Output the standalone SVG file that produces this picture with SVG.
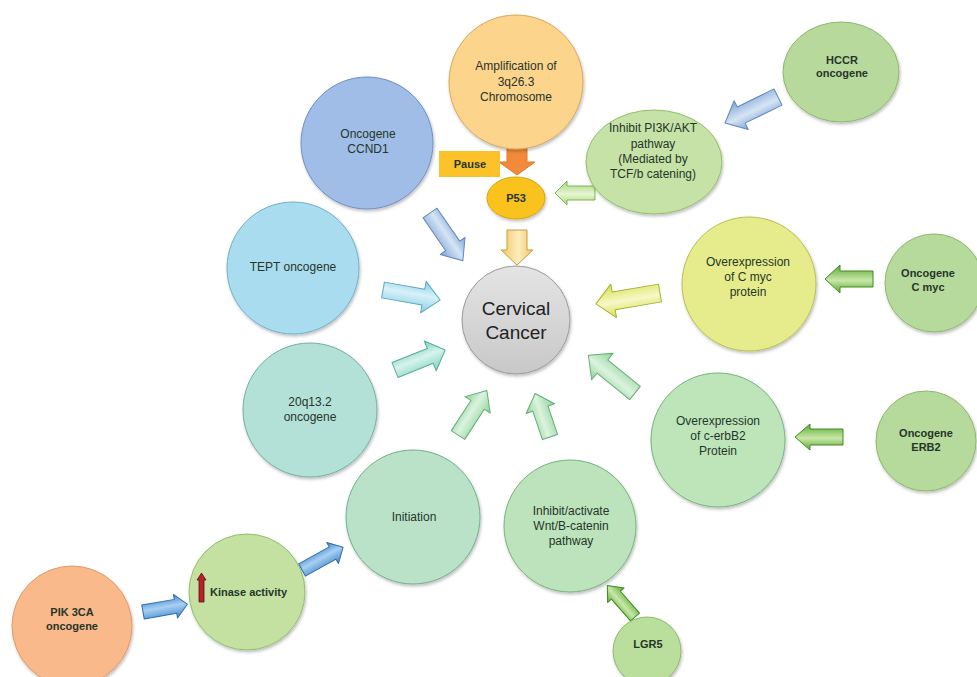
<svg xmlns="http://www.w3.org/2000/svg" width="977" height="677" viewBox="0 0 977 677">
<defs>
<filter id="sh" x="-20%" y="-20%" width="140%" height="140%"><feDropShadow dx="1" dy="2" stdDeviation="1.5" flood-color="#000" flood-opacity="0.25"/></filter>
<linearGradient id="gBlue" x1="0" y1="0" x2="0" y2="1"><stop offset="0" stop-color="#7ea4d4"/><stop offset="0.45" stop-color="#d6e5f5"/><stop offset="1" stop-color="#7ea4d4"/></linearGradient>
<linearGradient id="gCyan" x1="0" y1="0" x2="0" y2="1"><stop offset="0" stop-color="#86cfe4"/><stop offset="0.45" stop-color="#d8f1f8"/><stop offset="1" stop-color="#86cfe4"/></linearGradient>
<linearGradient id="gTeal" x1="0" y1="0" x2="0" y2="1"><stop offset="0" stop-color="#7fd2bf"/><stop offset="0.45" stop-color="#d6f3ec"/><stop offset="1" stop-color="#7fd2bf"/></linearGradient>
<linearGradient id="gLGreen" x1="0" y1="0" x2="0" y2="1"><stop offset="0" stop-color="#8fd29a"/><stop offset="0.45" stop-color="#dcf3de"/><stop offset="1" stop-color="#8fd29a"/></linearGradient>
<linearGradient id="gYGreen" x1="0" y1="0" x2="0" y2="1"><stop offset="0" stop-color="#a8d878"/><stop offset="0.45" stop-color="#e6f5d4"/><stop offset="1" stop-color="#a8d878"/></linearGradient>
<linearGradient id="gYellow" x1="0" y1="0" x2="0" y2="1"><stop offset="0" stop-color="#d6e04c"/><stop offset="0.45" stop-color="#f6f8c8"/><stop offset="1" stop-color="#d6e04c"/></linearGradient>
<linearGradient id="gGold" x1="0" y1="0" x2="0" y2="1"><stop offset="0" stop-color="#f0c860"/><stop offset="0.45" stop-color="#fcecc0"/><stop offset="1" stop-color="#f0c860"/></linearGradient>
<linearGradient id="gDGreen" x1="0" y1="0" x2="0" y2="1"><stop offset="0" stop-color="#5aa830"/><stop offset="0.45" stop-color="#c8e8a8"/><stop offset="1" stop-color="#5aa830"/></linearGradient>
<linearGradient id="gDBlue" x1="0" y1="0" x2="0" y2="1"><stop offset="0" stop-color="#3f86cc"/><stop offset="0.45" stop-color="#a8d0f2"/><stop offset="1" stop-color="#3f86cc"/></linearGradient>
<linearGradient id="gGray" x1="0" y1="0" x2="0" y2="1"><stop offset="0" stop-color="#e4e4e4"/><stop offset="1" stop-color="#c8c8c8"/></linearGradient>
</defs>
<style>
.n{filter:url(#sh);stroke-width:1}
.t{font-family:"Liberation Sans",Arial,sans-serif;font-size:12px;fill:#26352a;text-anchor:middle}
.b{font-weight:bold;font-size:11px}
.a{stroke-width:1;stroke-linejoin:round}
</style>

<g id="connectors">
<polygon class="a" fill="#f28a3a" stroke="#e0782a" transform="translate(517,145) rotate(90)" points="0,-10 17,-10 17,-18 30,0 17,18 17,10 0,10"/>
<polygon class="a" fill="url(#gYGreen)" stroke="#7fb450" transform="translate(595,193) rotate(180)" points="0,-7 28,-7 28,-12 40,0 28,12 28,7 0,7"/>
<polygon class="a" fill="url(#gBlue)" stroke="#5f86bc" transform="translate(778,97) rotate(153.9)" points="0,-9 41,-9 41,-16 59,0 41,16 41,9 0,9"/>
<polygon class="a" fill="url(#gGold)" stroke="#c89c3a" transform="translate(517,230) rotate(90)" points="0,-10 20,-10 20,-16 35,0 20,16 20,10 0,10"/>
<polygon class="a" fill="url(#gBlue)" stroke="#5f86bc" transform="translate(430,213) rotate(55.5)" points="0,-8.5 40,-8.5 40,-15 58,0 40,15 40,8.5 0,8.5"/>
<polygon class="a" fill="url(#gCyan)" stroke="#5aa6c0" transform="translate(383,290) rotate(10)" points="0,-8 41,-8 41,-16 58,0 41,16 41,8 0,8"/>
<polygon class="a" fill="url(#gTeal)" stroke="#55ac98" transform="translate(395,370) rotate(-21.8)" points="0,-8 38,-8 38,-16 54,0 38,16 38,8 0,8"/>
<polygon class="a" fill="url(#gLGreen)" stroke="#64ad72" transform="translate(458,435) rotate(-57)" points="0,-8 36,-8 36,-15 53,0 36,15 36,8 0,8"/>
<polygon class="a" fill="url(#gLGreen)" stroke="#64ad72" transform="translate(550,437) rotate(-108.8)" points="0,-8 30,-8 30,-15 46,0 30,15 30,8 0,8"/>
<polygon class="a" fill="url(#gLGreen)" stroke="#64ad72" transform="translate(635,393) rotate(-141)" points="0,-8.5 42,-8.5 42,-17 60,0 42,17 42,8.5 0,8.5"/>
<polygon class="a" fill="url(#gYellow)" stroke="#a8b030" transform="translate(660,293) rotate(170.4)" points="0,-9 47,-9 47,-17 65,0 47,17 47,9 0,9"/>
<polygon class="a" fill="url(#gDGreen)" stroke="#3f8a22" transform="translate(873,279) rotate(180)" points="0,-8 33,-8 33,-14 48,0 33,14 33,8 0,8"/>
<polygon class="a" fill="url(#gDGreen)" stroke="#3f8a22" transform="translate(843,437) rotate(180)" points="0,-8 33,-8 33,-13 48,0 33,13 33,8 0,8"/>
<polygon class="a" fill="url(#gDGreen)" stroke="#3f8a22" transform="translate(635,617) rotate(-131.2)" points="0,-6 29,-6 29,-11 42,0 29,11 29,6 0,6"/>
<polygon class="a" fill="url(#gDBlue)" stroke="#2f6aaa" transform="translate(143,612) rotate(-10)" points="0,-7 33,-7 33,-12 45,0 33,12 33,7 0,7"/>
<polygon class="a" fill="url(#gDBlue)" stroke="#2f6aaa" transform="translate(302,570) rotate(-29)" points="0,-7 35,-7 35,-12 47,0 35,12 35,7 0,7"/>
</g>

<g id="amplification"><circle class="n" cx="516" cy="82" r="67" fill="#fcd48c" stroke="#d6a85a"/>
<text class="t" x="516" y="70">Amplification of</text><text class="t" x="516" y="86">3q26.3</text><text class="t" x="516" y="101">Chromosome</text></g>

<g id="pause"><rect x="439" y="151" width="61" height="26" fill="#fbc22a"/><text class="t b" x="470" y="168">Pause</text></g>

<g id="p53"><ellipse class="n" cx="516" cy="198" rx="29" ry="21" fill="#f9c21e" stroke="#d8a410"/><text class="t b" x="516" y="202">P53</text></g>

<g id="ccnd1"><circle class="n" cx="367" cy="143" r="66" fill="#9fbde6" stroke="#6f8fbf"/>
<text class="t" x="368" y="138" fill="#1f2c45">Oncogene</text><text class="t" x="368" y="153">CCND1</text></g>

<g id="pi3k"><ellipse class="n" cx="654" cy="162" rx="68" ry="52" fill="#c6e2a6" stroke="#8fbf6a"/>
<text class="t" x="653" y="132">Inhibit PI3K/AKT</text><text class="t" x="653" y="148">pathway</text><text class="t" x="653" y="163">(Mediated by</text><text class="t" x="653" y="178">TCF/b catening)</text></g>

<g id="hccr"><ellipse class="n" cx="841" cy="72" rx="58" ry="50" fill="#b8d99c" stroke="#8db86c"/>
<text class="t b" x="842" y="64">HCCR</text><text class="t b" x="842" y="77">oncogene</text></g>

<g id="cmyc-over"><circle class="n" cx="749" cy="284" r="67" fill="#e6ec8c" stroke="#b5bf50"/>
<text class="t" x="748" y="266">Overexpression</text><text class="t" x="748" y="281">of C myc</text><text class="t" x="748" y="296">protein</text></g>

<g id="cmyc"><circle class="n" cx="934" cy="283" r="49" fill="#b6d99c" stroke="#8db86c"/>
<text class="t b" x="928" y="277">Oncogene</text><text class="t b" x="928" y="291">C myc</text></g>

<g id="cervical"><circle class="n" cx="516" cy="320" r="54" fill="url(#gGray)" stroke="#9a9a9a"/>
<text class="t" x="516" y="315" style="font-size:19px;fill:#222">Cervical</text><text class="t" x="516" y="339" style="font-size:19px;fill:#222">Cancer</text></g>

<g id="tept"><circle class="n" cx="293" cy="268" r="66" fill="#aadcef" stroke="#6fb0c8"/>
<text class="t" x="293" y="271">TEPT oncogene</text></g>

<g id="q20"><circle class="n" cx="310" cy="410" r="67" fill="#b4e1d7" stroke="#6fb0a0"/>
<text class="t" x="310" y="406">20q13.2</text><text class="t" x="310" y="421">oncogene</text></g>

<g id="initiation"><circle class="n" cx="413" cy="517" r="67" fill="#bae2c9" stroke="#6fb088"/>
<text class="t" x="414" y="521">Initiation</text></g>

<g id="wnt"><circle class="n" cx="570" cy="526" r="66" fill="#bce3bb" stroke="#74b478"/>
<text class="t" x="571" y="515">Inhibit/activate</text><text class="t" x="571" y="530">Wnt/B-catenin</text><text class="t" x="571" y="545">pathway</text></g>

<g id="erbb2-over"><circle class="n" cx="718" cy="440" r="67" fill="#bee5ba" stroke="#74b478"/>
<text class="t" x="718" y="425">Overexpression</text><text class="t" x="718" y="440">of c-erbB2</text><text class="t" x="718" y="455">Protein</text></g>

<g id="erb2"><circle class="n" cx="926" cy="441" r="50" fill="#b6d99c" stroke="#8db86c"/>
<text class="t b" x="926" y="437">Oncogene</text><text class="t b" x="926" y="451">ERB2</text></g>

<g id="lgr5"><circle class="n" cx="647" cy="651" r="34" fill="#bade9c" stroke="#8db86c"/>
<text class="t b" x="648" y="648">LGR5</text></g>

<g id="kinase"><circle class="n" cx="247" cy="592" r="58" fill="#c4e1a2" stroke="#8fbf6a"/>
<polygon fill="#b8202a" stroke="#5a1014" stroke-width="0.8" transform="translate(201.5,602) rotate(-90)" points="0,-2.5 22,-2.5 22,-4.5 29,0 22,4.5 22,2.5 0,2.5"/>
<text class="t b" x="210" y="596" style="text-anchor:start">Kinase activity</text></g>

<g id="pik3ca"><circle class="n" cx="72" cy="626" r="60" fill="#f9b98a" stroke="#e09a68"/>
<text class="t b" x="72" y="616">PIK 3CA</text><text class="t b" x="72" y="630">oncogene</text></g>
</svg>
